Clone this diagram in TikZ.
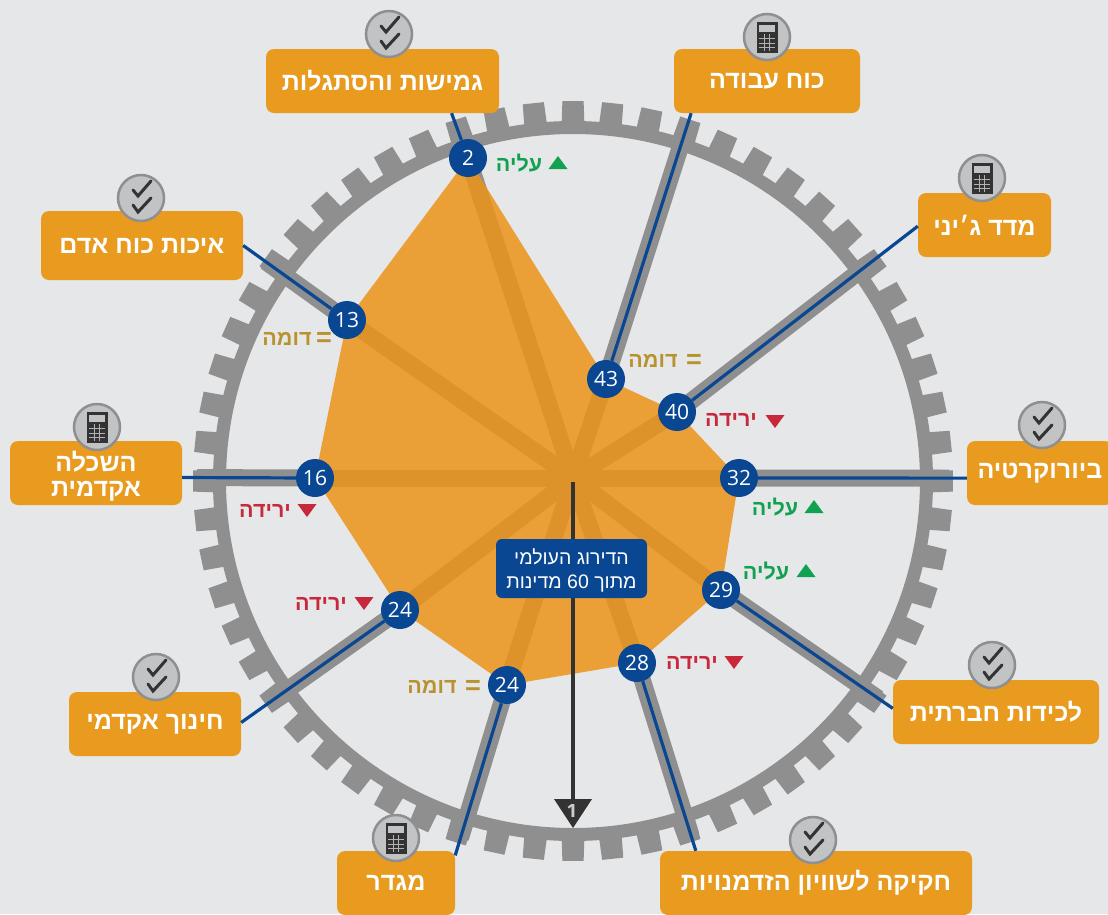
\documentclass[tikz,border=0pt]{standalone}
\usepackage{fontspec}
\usetikzlibrary{calc,backgrounds}
\TeXXeTstate=1
\setmainfont{Liberation Sans}
\newfontfamily\heb[Script=Hebrew]{Liberation Sans}
\newfontfamily\hebb[Script=Hebrew,BoldFont={Liberation Sans Bold}]{Liberation Sans}
\newfontfamily\num{Open Sans}
\definecolor{bgc}{HTML}{E6E7E9}
\definecolor{gearc}{HTML}{8F8F90}
\definecolor{polyc}{HTML}{EB941A}
\definecolor{boxc}{HTML}{E99B20}
\definecolor{bluec}{HTML}{0A4792}
\definecolor{darkc}{HTML}{333333}
\definecolor{upc}{HTML}{12A150}
\definecolor{downc}{HTML}{C8283C}
\definecolor{samec}{HTML}{B8922E}
\definecolor{iconf}{HTML}{C2C3C5}
\definecolor{icond}{HTML}{8E8F90}
\newcommand{\rl}[1]{\beginR #1\endR}
\tikzset{
  gearline/.style={draw=gearc,line width=17pt},
  boxn/.style={fill=boxc,rounded corners=8pt,inner sep=0pt,text=white,align=center,
    font={\hebb\bfseries\fontsize{25}{28}\selectfont}},
  valn/.style={circle,fill=bluec,minimum size=38pt,inner sep=0pt,text=white,
    font={\num\fontsize{21}{23}\selectfont}},
  wire/.style={draw=bluec,line width=3.2pt},
  trendn/.style={inner sep=0pt,font={\hebb\bfseries\fontsize{21.5}{24}\selectfont}},
  upn/.style={trendn,text=upc},
  downn/.style={trendn,text=downc},
  samen/.style={trendn,text=samec},
  eqn/.style={inner sep=0pt,text=samec,font={\hebb\bfseries\fontsize{27}{28}\selectfont}},
  iconbase/.style={fill=iconf,draw=icond,line width=2.5pt},
  uptri/.pic={\fill[upc] (-9.5,6) -- (9.5,6) -- (0,-7) -- cycle;},
  downtri/.pic={\fill[downc] (-9.5,-6) -- (9.5,-6) -- (0,7) -- cycle;},
  checkicon/.pic={
    \path[iconbase] (0,0) circle (23pt);
    \draw[darkc,line width=3pt,line cap=round] (-8,-8) -- (-3,-2) -- (10,-17);
    \draw[darkc,line width=3pt,line cap=round] (-8,7) -- (-3,14) -- (10,0);
  },
  calcicon/.pic={
    \path[iconbase] (0,0) circle (23pt);
    \fill[darkc] (-10.5,-15) rectangle (10.5,16);
    \fill[iconf] (-8,-12.5) rectangle (8,-5);
    \foreach \i in {-2.7,2.7}{\draw[gray!60!white,line width=.8pt] (\i,-3) -- (\i,14);}
    \foreach \j in {1.5,6,10.5}{\draw[gray!60!white,line width=.8pt] (-8,\j) -- (8,\j);}
  }
}
\begin{document}
\begin{tikzpicture}[x=1pt,y=-1pt]
\useasboundingbox (0,0) rectangle (1108,914);
\coordinate (c) at (573,478);
\coordinate (r) at (573,481);
\coordinate (p2) at (468,158);
\coordinate (p43) at (606,379);
\coordinate (p40) at (677,412);
\coordinate (p32) at (739,478);
\coordinate (p29) at (721,590);
\coordinate (p28) at (637,663);
\coordinate (p24a) at (507,685);
\coordinate (p24b) at (400,610);
\coordinate (p16) at (315,478);
\coordinate (p13) at (347,320);
% value nodes
\node[valn] (n2) at (p2) {2};
\node[valn] (n43) at (p43) {43};
\node[valn] (n40) at (p40) {40};
\node[valn] (n32) at (p32) {32};
\node[valn] (n29) at (p29) {29};
\node[valn] (n28) at (p28) {28};
\node[valn] (n24a) at (p24a) {24};
\node[valn] (n24b) at (p24b) {24};
\node[valn] (n16) at (p16) {16};
\node[valn] (n13) at (p13) {13};
% boxes
\node[boxn,minimum width=233pt,minimum height=64pt] (b2) at (382.5,81) {\rl{גמישות והסתגלות}};
\node[boxn,minimum width=186pt,minimum height=64pt] (b43) at (767,81) {\rl{כוח עבודה}};
\node[boxn,minimum width=133pt,minimum height=64pt] (b40) at (984.5,225) {\rl{מדד ג׳יני}};
\node[boxn,minimum width=146pt,minimum height=64pt] (b32) at (1040,473) {\rl{ביורוקרטיה}};
\node[boxn,minimum width=206pt,minimum height=64pt] (b29) at (996,712) {\rl{לכידות חברתית}};
\node[boxn,minimum width=312pt,minimum height=64pt] (b28) at (816,883) {\rl{חקיקה לשוויון הזדמנויות}};
\node[boxn,minimum width=118pt,minimum height=64pt] (b24a) at (396,883) {\rl{מגדר}};
\node[boxn,minimum width=172pt,minimum height=64pt] (b24b) at (155,724) {\rl{חינוך אקדמי}};
\node[boxn,minimum width=172pt,minimum height=64pt] (b16) at (96,473) {\rule{0pt}{26pt}\rl{השכלה}\\[-3pt]\rl{אקדמית}};
\node[boxn,minimum width=202pt,minimum height=69pt] (b13) at (142,245.5) {\rl{איכות כוח אדם}};
% wires
\draw[wire] (n2) -- (b2.-25);
\draw[wire] (n43) -- (b43.203);
\draw[wire] (n40) -- (b40.181);
\draw[wire] (n32) -- (b32.184);
\draw[wire] (n29) -- (b29.178);
\draw[wire] (n28) -- (b28.165);
\draw[wire] (n24a) -- (b24a.25);
\draw[wire] (n24b) -- (b24b.1);
\draw[wire] (n16) -- (b16.-3.3);
\draw[wire] (n13) -- (b13.0);
% background: sheet, spokes, gear, polygon
\begin{scope}[on background layer]
\fill[bgc] (0,0) rectangle (1108,914);
\foreach \p/\b/\a/\d in {2/b2/-25/38,43/b43/203/271,40/b40/181/252,32/b32/184/210,29/b29/178/191,28/b28/165/181,24a/b24a/25/160,24b/b24b/1/159,16/b16/-3.3/118,13/b13/0/100}{
  \draw[gearline] (c) -- (p\p);
  \draw[gearline] (p\p) -- ($(p\p)!\d pt!(\b.\a)$);
}
\draw[draw=gearc,line width=13pt] (r) circle (353.5pt);
\foreach \a in {0,6,...,354}{
  \fill[gearc] ($(r)+({355*cos(\a-1.85)},{355*sin(\a-1.85)})$)
    -- ($(r)+({380*cos(\a-1.6)},{380*sin(\a-1.6)})$)
    -- ($(r)+({380*cos(\a+1.6)},{380*sin(\a+1.6)})$)
    -- ($(r)+({355*cos(\a+1.85)},{355*sin(\a+1.85)})$) -- cycle;
}
\fill[polyc,fill opacity=.86] (p2) -- (p43) -- (p40) -- (p32) -- (p29) -- (p28) -- (p24a) -- (p24b) -- (p16) -- (p13) -- cycle;
\end{scope}
% icons
\pic at (389,34) {checkicon};
\pic at (767,37) {calcicon};
\pic at (982,178) {calcicon};
\pic at (1042,425) {checkicon};
\pic at (992,665) {checkicon};
\pic at (813,840) {checkicon};
\pic at (396,838) {calcicon};
\pic at (156,677) {checkicon};
\pic at (97,427) {calcicon};
\pic at (141,198) {checkicon};
% trends
\node[upn] (t2) at (519,163) {\rl{עליה}};
\pic at (558,163) {uptri};
\node[samen] (t13) at (287,339) {\rl{דומה}};
\node[eqn] (e13) at (324,339) {=};
\node[samen] (t43) at (653,361) {\rl{דומה}};
\node[eqn] (e43) at (694,361) {=};
\node[downn] (t40) at (731,420) {\rl{ירידה}};
\pic at (775,421) {downtri};
\node[upn] (t32) at (775,507) {\rl{עליה}};
\pic at (814,507) {uptri};
\node[upn] (t29) at (766,571) {\rl{עליה}};
\pic at (806,571) {uptri};
\node[downn] (t28) at (692,663) {\rl{ירידה}};
\pic at (734,662) {downtri};
\node[samen] (t24a) at (432,687) {\rl{דומה}};
\node[eqn] (e24a) at (473,687) {=};
\node[downn] (t24b) at (321,604) {\rl{ירידה}};
\pic at (364,603) {downtri};
\node[downn] (t16) at (265,511) {\rl{ירידה}};
\pic at (307,510) {downtri};
% arrow
\coordinate (as) at (573,482);
\fill[darkc] (554,799) -- (592,799) -- (573,828) -- cycle;
\node[inner sep=0pt,text=gray!40!white,font={\num\bfseries\fontsize{19}{20}\selectfont}] (one) at (572,811) {1};
\draw[darkc,line width=4.5pt] (as) -- (as |- one.north);
\node[fill=bluec,rounded corners=6pt,inner sep=0pt,minimum width=151pt,minimum height=59pt,text=white,align=center,
  font={\heb\fontsize{19.5}{24}\selectfont}] (title) at (571.5,568.5)
  {\rule{0pt}{19pt}\rl{הדירוג העולמי}\\\rl{מתוך \beginL 60\endL{} מדינות}};
\end{tikzpicture}
\end{document}
